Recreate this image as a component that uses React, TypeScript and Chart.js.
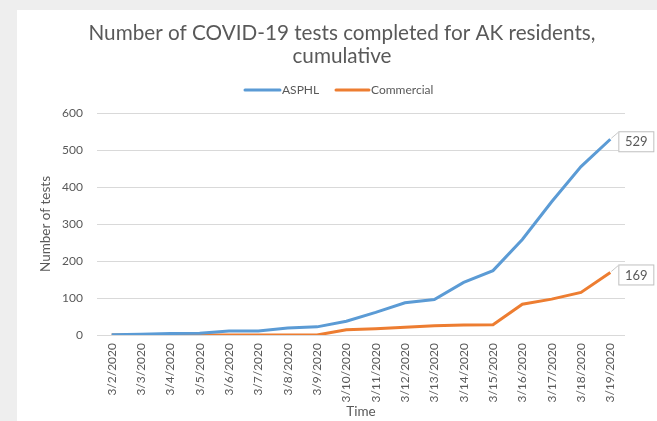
import React, { useEffect, useRef } from "react";
import { Chart, registerables } from "chart.js";

Chart.register(...registerables);

const categories = [
  "3/2/2020", "3/3/2020", "3/4/2020", "3/5/2020", "3/6/2020", "3/7/2020",
  "3/8/2020", "3/9/2020", "3/10/2020", "3/11/2020", "3/12/2020", "3/13/2020",
  "3/14/2020", "3/15/2020", "3/16/2020", "3/17/2020", "3/18/2020", "3/19/2020",
];
const asphl = [1, 2, 4, 5, 11, 11, 19, 22, 37, 61, 87, 96, 142, 174, 258, 360, 455, 529];
const commercial = [0, 0, 0, 0, 0, 0, 0, 0, 14, 17, 21, 25, 27, 28, 83, 97, 115, 169];
const yTicks = [0, 100, 200, 300, 400, 500, 600];

const titleLines = ["Number of COVID-19 tests completed for AK residents,", "cumulative"];
const seriesNames = ["ASPHL", "Commercial"];
const seriesColors = ["#5B9BD5", "#ED7D31"];
const TEXT = "#595959";
const FONT = "Lato";

const decor = {
  id: "decor",
  beforeDraw(chart: any) {
    const ctx = chart.ctx;
    ctx.save();
    ctx.fillStyle = "#eeeeee";
    ctx.fillRect(0, 0, chart.width, chart.height);
    ctx.fillStyle = "#ffffff";
    ctx.fillRect(17, 10, chart.width - 17, chart.height - 10);
    ctx.restore();
  },
  afterDraw(chart: any) {
    const ctx = chart.ctx;
    ctx.save();
    // title
    ctx.fillStyle = TEXT;
    ctx.textAlign = "center";
    ctx.textBaseline = "middle";
    ctx.font = `20.7px ${FONT}`;
    ctx.fillText(titleLines[0], 342, 33);
    ctx.fillText(titleLines[1], 342, 56);
    // legend
    ctx.font = `12px ${FONT}`;
    ctx.textAlign = "left";
    const legendY = 90;
    const items = [
      { x0: 245, x1: 280, tx: 282 },
      { x0: 336, x1: 369, tx: 371 },
    ];
    items.forEach((it, i) => {
      ctx.strokeStyle = seriesColors[i];
      ctx.lineWidth = 3;
      ctx.lineCap = "round";
      ctx.beginPath();
      ctx.moveTo(it.x0, legendY);
      ctx.lineTo(it.x1, legendY);
      ctx.stroke();
      ctx.fillStyle = TEXT;
      ctx.fillText(seriesNames[i], it.tx, legendY);
    });
    // data labels at last points
    chart.data.datasets.forEach((ds: any, i: number) => {
      const meta = chart.getDatasetMeta(i);
      const last = meta.data[meta.data.length - 1];
      const val = ds.data[ds.data.length - 1];
      const px = last.x;
      const py = last.y;
      const bx = px + 8;
      const by = py - 8;
      const bw = 35;
      const bh = 20;
      ctx.strokeStyle = "#c8c8c8";
      ctx.lineWidth = 1;
      ctx.lineCap = "butt";
      ctx.beginPath();
      ctx.moveTo(px + 1, py - 1);
      ctx.lineTo(bx, by + 1);
      ctx.stroke();
      ctx.fillStyle = "#ffffff";
      ctx.fillRect(bx, by, bw, bh);
      ctx.strokeStyle = "#bfbfbf";
      ctx.strokeRect(bx + 0.5, by + 0.5, bw, bh);
      ctx.fillStyle = TEXT;
      ctx.font = `13px ${FONT}`;
      ctx.textAlign = "center";
      ctx.textBaseline = "middle";
      ctx.fillText(String(val), bx + bw / 2 + 0.5, by + bh / 2 + 1);
    });
    ctx.restore();
  },
};

export default function App() {
  const ref = useRef<HTMLCanvasElement | null>(null);
  useEffect(() => {
    if (!ref.current) return;
    const chart = new Chart(ref.current, {
      type: "line",
      data: {
        labels: categories,
        datasets: [
          {
            label: seriesNames[0],
            data: asphl,
            borderColor: seriesColors[0],
            backgroundColor: seriesColors[0],
            borderWidth: 3,
            pointRadius: 0,
            tension: 0,
          },
          {
            label: seriesNames[1],
            data: commercial,
            borderColor: seriesColors[1],
            backgroundColor: seriesColors[1],
            borderWidth: 3,
            pointRadius: 0,
            tension: 0,
          },
        ],
      },
      options: {
        responsive: false,
        animation: false,
        devicePixelRatio: 1,
        layout: { padding: { top: 113, left: 0, right: 32, bottom: 0 } },
        plugins: {
          legend: { display: false },
          title: { display: false },
          tooltip: { enabled: false },
        },
        scales: {
          x: {
            type: "category",
            offset: true,
            grid: { display: false, drawTicks: false },
            border: { display: false },
            ticks: {
              color: TEXT,
              font: { family: FONT, size: 12 },
              minRotation: 90,
              maxRotation: 90,
              padding: 8,
              autoSkip: false,
            },
            title: {
              display: true,
              text: "Time",
              color: TEXT,
              font: { family: FONT, size: 13.5 },
              padding: { top: 0, bottom: 1 },
            },
            afterFit(scale: any) {
              scale.height = 86;
            },
          },
          y: {
            min: 0,
            max: 600,
            afterBuildTicks(scale: any) {
              scale.ticks = yTicks.map((v) => ({ value: v }));
            },
            grid: { color: "#d9d9d9", lineWidth: 1, drawTicks: false },
            border: { display: false },
            ticks: {
              color: TEXT,
              font: { family: FONT, size: 12 },
              padding: 14,
            },
            title: {
              display: true,
              text: "Number of tests",
              color: TEXT,
              font: { family: FONT, size: 13.5 },
              padding: { top: 38, bottom: 0 },
            },
            afterFit(scale: any) {
              scale.width = 97;
            },
          },
        },
      },
      plugins: [decor],
    } as any);
    return () => chart.destroy();
  }, []);
  return (
    <div style={{ position: "absolute", left: 0, top: 0, width: 657, height: 421 }}>
      <canvas ref={ref} width={657} height={421} style={{ width: 657, height: 421, display: "block" }} />
    </div>
  );
}
